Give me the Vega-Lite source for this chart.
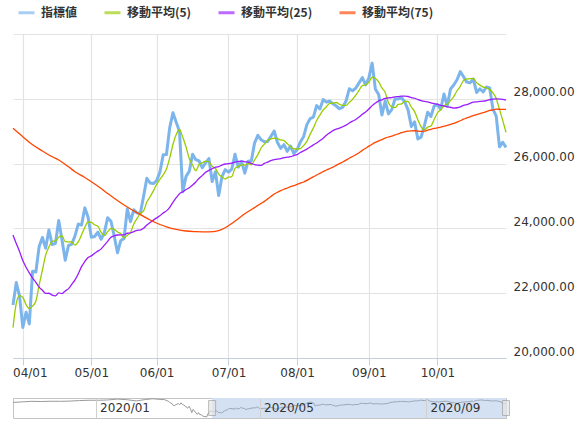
{
  "$schema": "https://vega.github.io/schema/vega-lite/v6.json",
  "padding": {"left": 10, "top": 3, "right": 2, "bottom": 2},
  "config": {"font": "DejaVu Sans", "view": {"stroke": null}},
  "datasets": {
    "main": [
      {"d":"2020-03-27","p":21637,"m5":20937,"m25":23798,"m75":27090},
      {"d":"2020-03-30","p":22327,"m5":21684,"m25":23533},
      {"d":"2020-03-31","p":21917,"m5":21927,"m25":23286},
      {"d":"2020-04-01","p":20944,"m5":21875,"m25":23006,"m75":26830},
      {"d":"2020-04-02","p":21413,"m5":21648,"m25":22802},
      {"d":"2020-04-03","p":21053,"m5":21531,"m25":22627},
      {"d":"2020-04-06","p":22680,"m5":21601,"m25":22466,"m75":26580},
      {"d":"2020-04-07","p":22654,"m5":21749,"m25":22336},
      {"d":"2020-04-08","p":23434,"m5":22247,"m25":22190},
      {"d":"2020-04-09","p":23719,"m5":22708,"m25":22093,"m75":26390},
      {"d":"2020-04-13","p":23391,"m5":23176,"m25":21995},
      {"d":"2020-04-14","p":23950,"m5":23430,"m25":21998},
      {"d":"2020-04-15","p":23504,"m5":23600,"m25":21938,"m75":26210},
      {"d":"2020-04-16","p":23538,"m5":23620,"m25":21917},
      {"d":"2020-04-17","p":24242,"m5":23725,"m25":22009,"m75":26110},
      {"d":"2020-04-20","p":23650,"m5":23777,"m25":21988},
      {"d":"2020-04-21","p":23019,"m5":23591,"m25":22071},
      {"d":"2020-04-22","p":23476,"m5":23585,"m25":22140,"m75":25900},
      {"d":"2020-04-23","p":23515,"m5":23580,"m25":22275},
      {"d":"2020-04-24","p":23775,"m5":23487,"m25":22412,"m75":25750},
      {"d":"2020-04-27","p":24134,"m5":23584,"m25":22601},
      {"d":"2020-04-28","p":24102,"m5":23800,"m25":22821},
      {"d":"2020-04-29","p":24634,"m5":24032,"m25":22978,"m75":25570},
      {"d":"2020-04-30","p":24346,"m5":24198,"m25":23104},
      {"d":"2020-05-01","p":23724,"m5":24188,"m25":23151,"m75":25440},
      {"d":"2020-05-04","p":23750,"m5":24111,"m25":23236},
      {"d":"2020-05-05","p":23883,"m5":24067,"m25":23298},
      {"d":"2020-05-06","p":23665,"m5":23874,"m25":23368,"m75":25230},
      {"d":"2020-05-07","p":23876,"m5":23780,"m25":23485},
      {"d":"2020-05-08","p":24331,"m5":23901,"m25":23602,"m75":25080},
      {"d":"2020-05-11","p":24222,"m5":23995,"m25":23729},
      {"d":"2020-05-12","p":23765,"m5":23972,"m25":23772},
      {"d":"2020-05-13","p":23248,"m5":23888,"m25":23796,"m75":24860},
      {"d":"2020-05-14","p":23625,"m5":23838,"m25":23803},
      {"d":"2020-05-15","p":23685,"m5":23709,"m25":23802,"m75":24720},
      {"d":"2020-05-18","p":24597,"m5":23784,"m25":23850},
      {"d":"2020-05-19","p":24207,"m5":23872,"m25":23861},
      {"d":"2020-05-20","p":24576,"m5":24138,"m25":23903,"m75":24540},
      {"d":"2020-05-21","p":24474,"m5":24308,"m25":23941},
      {"d":"2020-05-22","p":24465,"m5":24464,"m25":23950},
      {"d":"2020-05-26","p":24995,"m5":24543,"m25":24004,"m75":24370},
      {"d":"2020-05-27","p":25548,"m5":24812,"m25":24105},
      {"d":"2020-05-28","p":25401,"m5":24977,"m25":24182,"m75":24260},
      {"d":"2020-05-29","p":25383,"m5":25158,"m25":24256},
      {"d":"2020-06-01","p":25475,"m5":25360,"m25":24324},
      {"d":"2020-06-02","p":25743,"m5":25510,"m25":24389,"m75":24120},
      {"d":"2020-06-03","p":26270,"m5":25654,"m25":24476},
      {"d":"2020-06-04","p":26282,"m5":25831,"m25":24541,"m75":24050},
      {"d":"2020-06-05","p":27111,"m5":26176,"m25":24652},
      {"d":"2020-06-08","p":27572,"m5":26596,"m25":24806},
      {"d":"2020-06-09","p":27272,"m5":26901,"m25":24947,"m75":23970},
      {"d":"2020-06-10","p":26990,"m5":27045,"m25":25071},
      {"d":"2020-06-11","p":25128,"m5":26815,"m25":25130},
      {"d":"2020-06-12","p":25606,"m5":26514,"m25":25199,"m75":23920},
      {"d":"2020-06-15","p":25763,"m5":26152,"m25":25256},
      {"d":"2020-06-16","p":26290,"m5":25955,"m25":25339},
      {"d":"2020-06-17","p":26120,"m5":25781,"m25":25433,"m75":23900},
      {"d":"2020-06-18","p":26080,"m5":25972,"m25":25546},
      {"d":"2020-06-19","p":25871,"m5":26025,"m25":25636},
      {"d":"2020-06-22","p":26025,"m5":26077,"m25":25730},
      {"d":"2020-06-23","p":26156,"m5":26050,"m25":25792,"m75":23890},
      {"d":"2020-06-24","p":25446,"m5":25916,"m25":25842},
      {"d":"2020-06-25","p":25746,"m5":25849,"m25":25888},
      {"d":"2020-06-26","p":25016,"m5":25678,"m25":25910,"m75":23930},
      {"d":"2020-06-29","p":25596,"m5":25592,"m25":25955},
      {"d":"2020-06-30","p":25813,"m5":25523,"m25":25988,"m75":24020},
      {"d":"2020-07-01","p":25735,"m5":25581,"m25":25996},
      {"d":"2020-07-02","p":25827,"m5":25597,"m25":26013,"m75":24150},
      {"d":"2020-07-06","p":26287,"m5":25852,"m25":26049},
      {"d":"2020-07-07","p":25890,"m5":25910,"m25":26065,"m75":24300},
      {"d":"2020-07-08","p":26067,"m5":25961,"m25":26078},
      {"d":"2020-07-09","p":25706,"m5":25955,"m25":26056,"m75":24450},
      {"d":"2020-07-10","p":26075,"m5":26005,"m25":26048},
      {"d":"2020-07-13","p":26086,"m5":25965,"m25":26007,"m75":24580},
      {"d":"2020-07-14","p":26643,"m5":26115,"m25":25969,"m75":24642},
      {"d":"2020-07-15","p":26870,"m5":26276,"m25":25953,"m75":24712},
      {"d":"2020-07-16","p":26735,"m5":26482,"m25":25943,"m75":24771},
      {"d":"2020-07-17","p":26672,"m5":26601,"m25":26005,"m75":24834},
      {"d":"2020-07-20","p":26681,"m5":26720,"m25":26048,"m75":24911},
      {"d":"2020-07-21","p":26840,"m5":26760,"m25":26091,"m75":24983},
      {"d":"2020-07-22","p":27006,"m5":26787,"m25":26120,"m75":25062},
      {"d":"2020-07-23","p":26652,"m5":26770,"m25":26141,"m75":25115},
      {"d":"2020-07-24","p":26470,"m5":26730,"m25":26156,"m75":25166},
      {"d":"2020-07-27","p":26585,"m5":26711,"m25":26185,"m75":25208},
      {"d":"2020-07-28","p":26379,"m5":26618,"m25":26199,"m75":25244},
      {"d":"2020-07-29","p":26540,"m5":26525,"m25":26215,"m75":25286},
      {"d":"2020-07-30","p":26314,"m5":26458,"m25":26249,"m75":25317},
      {"d":"2020-07-31","p":26428,"m5":26449,"m25":26277,"m75":25356},
      {"d":"2020-08-03","p":26664,"m5":26465,"m25":26342,"m75":25398},
      {"d":"2020-08-04","p":26828,"m5":26555,"m25":26392,"m75":25432},
      {"d":"2020-08-05","p":27202,"m5":26687,"m25":26447,"m75":25480},
      {"d":"2020-08-06","p":27387,"m5":26902,"m25":26513,"m75":25538},
      {"d":"2020-08-07","p":27433,"m5":27103,"m25":26578,"m75":25591},
      {"d":"2020-08-10","p":27791,"m5":27328,"m25":26638,"m75":25648},
      {"d":"2020-08-11","p":27687,"m5":27500,"m25":26710,"m75":25700},
      {"d":"2020-08-12","p":27977,"m5":27655,"m25":26786,"m75":25751},
      {"d":"2020-08-13","p":27897,"m5":27757,"m25":26874,"m75":25802},
      {"d":"2020-08-14","p":27931,"m5":27857,"m25":26948,"m75":25846},
      {"d":"2020-08-17","p":27845,"m5":27867,"m25":27018,"m75":25892},
      {"d":"2020-08-18","p":27778,"m5":27886,"m25":27064,"m75":25946},
      {"d":"2020-08-19","p":27693,"m5":27829,"m25":27097,"m75":25999},
      {"d":"2020-08-20","p":27740,"m5":27797,"m25":27137,"m75":26050},
      {"d":"2020-08-21","p":27930,"m5":27797,"m25":27187,"m75":26107},
      {"d":"2020-08-24","p":28308,"m5":27890,"m25":27252,"m75":26166},
      {"d":"2020-08-25","p":28248,"m5":27984,"m25":27309,"m75":26219},
      {"d":"2020-08-26","p":28332,"m5":28112,"m25":27362,"m75":26273},
      {"d":"2020-08-27","p":28492,"m5":28262,"m25":27435,"m75":26336},
      {"d":"2020-08-28","p":28654,"m5":28407,"m25":27523,"m75":26408},
      {"d":"2020-08-31","p":28430,"m5":28431,"m25":27596,"m75":26473},
      {"d":"2020-09-01","p":28646,"m5":28511,"m25":27687,"m75":26539},
      {"d":"2020-09-02","p":29101,"m5":28665,"m25":27789,"m75":26599},
      {"d":"2020-09-03","p":28293,"m5":28625,"m25":27869,"m75":26653},
      {"d":"2020-09-04","p":28133,"m5":28521,"m25":27937,"m75":26701},
      {"d":"2020-09-08","p":27501,"m5":28335,"m25":27970,"m75":26741},
      {"d":"2020-09-09","p":27940,"m5":28194,"m25":28015,"m75":26787},
      {"d":"2020-09-10","p":27535,"m5":27880,"m25":28028,"m75":26821},
      {"d":"2020-09-11","p":27666,"m5":27755,"m25":28039,"m75":26849},
      {"d":"2020-09-14","p":27993,"m5":27727,"m25":28062,"m75":26884},
      {"d":"2020-09-15","p":27996,"m5":27826,"m25":28070,"m75":26919},
      {"d":"2020-09-16","p":28032,"m5":27844,"m25":28084,"m75":26953},
      {"d":"2020-09-17","p":27902,"m5":27918,"m25":28081,"m75":26982},
      {"d":"2020-09-18","p":27657,"m5":27916,"m25":28071,"m75":27000},
      {"d":"2020-09-21","p":27148,"m5":27747,"m25":28040,"m75":27012},
      {"d":"2020-09-22","p":27288,"m5":27605,"m25":28017,"m75":27014},
      {"d":"2020-09-23","p":26763,"m5":27352,"m25":27977,"m75":27003},
      {"d":"2020-09-24","p":26815,"m5":27134,"m25":27942,"m75":26997},
      {"d":"2020-09-25","p":27174,"m5":27038,"m25":27919,"m75":27000},
      {"d":"2020-09-28","p":27584,"m5":27125,"m25":27905,"m75":27032},
      {"d":"2020-09-29","p":27453,"m5":27158,"m25":27871,"m75":27057},
      {"d":"2020-09-30","p":27782,"m5":27362,"m25":27852,"m75":27084},
      {"d":"2020-10-01","p":27817,"m5":27562,"m25":27832,"m75":27104},
      {"d":"2020-10-02","p":27683,"m5":27664,"m25":27799,"m75":27125},
      {"d":"2020-10-05","p":28149,"m5":27777,"m25":27779,"m75":27153},
      {"d":"2020-10-06","p":27773,"m5":27841,"m25":27753,"m75":27178},
      {"d":"2020-10-07","p":28303,"m5":27945,"m25":27739,"m75":27208},
      {"d":"2020-10-08","p":28426,"m5":28067,"m25":27712,"m75":27239},
      {"d":"2020-10-09","p":28587,"m5":28248,"m25":27724,"m75":27281},
      {"d":"2020-10-12","p":28838,"m5":28385,"m25":27752,"m75":27322},
      {"d":"2020-10-13","p":28680,"m5":28567,"m25":27799,"m75":27371},
      {"d":"2020-10-14","p":28514,"m5":28609,"m25":27822,"m75":27410},
      {"d":"2020-10-15","p":28494,"m5":28623,"m25":27861,"m75":27445},
      {"d":"2020-10-16","p":28606,"m5":28626,"m25":27898,"m75":27484},
      {"d":"2020-10-19","p":28195,"m5":28498,"m25":27906,"m75":27515},
      {"d":"2020-10-20","p":28309,"m5":28424,"m25":27919,"m75":27542},
      {"d":"2020-10-21","p":28211,"m5":28363,"m25":27926,"m75":27573},
      {"d":"2020-10-22","p":28364,"m5":28337,"m25":27945,"m75":27604},
      {"d":"2020-10-23","p":28336,"m5":28283,"m25":27972,"m75":27639},
      {"d":"2020-10-26","p":27685,"m5":28181,"m25":27993,"m75":27660},
      {"d":"2020-10-27","p":27463,"m5":28012,"m25":28000,"m75":27679},
      {"d":"2020-10-28","p":26520,"m5":27674,"m25":27990,"m75":27677},
      {"d":"2020-10-29","p":26659,"m5":27333,"m25":27984,"m75":27674},
      {"d":"2020-10-30","p":26502,"m5":26966,"m25":27957,"m75":27671}
    ],
    "pre": [
      {"d":"2019-11-01","p":27347},{"d":"2019-11-08","p":27681},{"d":"2019-11-15","p":28005},
      {"d":"2019-11-22","p":27876},{"d":"2019-11-29","p":28051},{"d":"2019-12-06","p":28015},
      {"d":"2019-12-13","p":28135},{"d":"2019-12-20","p":28455},{"d":"2019-12-27","p":28645},
      {"d":"2020-01-03","p":28634},{"d":"2020-01-10","p":28824},{"d":"2020-01-17","p":29348},
      {"d":"2020-01-24","p":28990},{"d":"2020-01-31","p":28256},{"d":"2020-02-07","p":29103},
      {"d":"2020-02-12","p":29551},{"d":"2020-02-14","p":29398},{"d":"2020-02-21","p":28992},
      {"d":"2020-02-24","p":27961},{"d":"2020-02-25","p":27081},{"d":"2020-02-26","p":26957},
      {"d":"2020-02-27","p":25766},{"d":"2020-02-28","p":25409},{"d":"2020-03-02","p":26703},
      {"d":"2020-03-03","p":25917},{"d":"2020-03-04","p":27091},{"d":"2020-03-05","p":26121},
      {"d":"2020-03-06","p":25865},{"d":"2020-03-09","p":23851},{"d":"2020-03-10","p":25018},
      {"d":"2020-03-11","p":23553},{"d":"2020-03-12","p":21200},{"d":"2020-03-13","p":23186},
      {"d":"2020-03-16","p":20189},{"d":"2020-03-17","p":21237},{"d":"2020-03-18","p":19899},
      {"d":"2020-03-19","p":20087},{"d":"2020-03-20","p":19174},{"d":"2020-03-23","p":18592},
      {"d":"2020-03-24","p":20705},{"d":"2020-03-25","p":21201},{"d":"2020-03-26","p":22552},
      {"d":"2020-03-27","p":21637}
    ]
  },
  "vconcat": [
    {
      "width": 493,
      "height": 324,
      "data": {"name": "main", "format": {"parse": {"d": "string"}}},
      "transform": [
        {"fold": ["p", "m5", "m25", "m75"], "as": ["k", "v"]},
        {"filter": "isValid(datum.v)"}
      ],
      "encoding": {
        "x": {
          "field": "d",
          "type": "ordinal",
          "scale": {"type": "point", "padding": 0},
          "axis": {
            "values": ["2020-04-01","2020-05-01","2020-06-01","2020-07-01","2020-07-31","2020-09-01","2020-10-01"],
            "labelExpr": "datum.value == '2020-07-31' ? '08/01' : substring(datum.value,5,7) + '/' + substring(datum.value,8,10)",
            "title": null,
            "grid": true,
            "gridColor": "#e3e3e3",
            "gridWidth": 1.2,
            "domainColor": "#c5d0dd",
            "tickColor": "#c5d0dd",
            "tickSize": 7,
            "labelPadding": 2,
            "labelFontSize": 12,
            "labelColor": "#333333",
            "labelAngle": 0,
            "labelOffset": {"condition": {"test": "datum.value == '2020-04-01'", "value": 7}, "value": 0}
          }
        },
        "y": {
          "field": "v",
          "type": "quantitative",
          "scale": {"domain": [20000, 30000], "zero": false, "nice": false},
          "axis": {
            "orient": "right",
            "values": [20000, 22000, 24000, 26000, 28000, 30000],
            "labelExpr": "datum.value >= 30000 ? '' : format(datum.value, ',.2f')",
            "title": null,
            "domain": false,
            "ticks": false,
            "grid": true,
            "gridColor": "#e3e3e3",
            "gridWidth": 1.2,
            "labelPadding": 7,
            "labelBaseline": "bottom",
            "labelFontSize": 12,
            "labelColor": "#333333"
          }
        },
        "color": {
          "field": "k",
          "type": "nominal",
          "scale": {"domain": ["p", "m5", "m25", "m75"], "range": ["#7cb5ec", "#99cc00", "#9a1cff", "#ff4500"]},
          "legend": {
            "orient": "none",
            "legendX": 4,
            "legendY": -31,
            "direction": "horizontal",
            "title": null,
            "symbolType": "stroke",
            "symbolStrokeWidth": 3,
            "symbolSize": 256,
            "symbolOpacity": 0.65,
            "labelFont": "Noto Sans CJK JP",
            "labelFontWeight": "bold",
            "labelFontSize": 12,
            "labelColor": "#333333",
            "labelOffset": 5,
            "columnPadding": 20,
            "labelExpr": "datum.value == 'p' ? '指標値' : datum.value == 'm5' ? '移動平均(5)' : datum.value == 'm25' ? '移動平均(25)' : '移動平均(75)'"
          }
        }
      },
      "layer": [
        {
          "transform": [{"filter": "datum.k == 'p'"}],
          "mark": {"type": "line", "strokeWidth": 3, "strokeJoin": "round"}
        },
        {
          "transform": [{"filter": "datum.k != 'p'"}],
          "mark": {"type": "line", "strokeWidth": 1.3, "interpolate": "monotone"}
        }
      ]
    },
    {
      "width": 493,
      "height": 20,
      "view": {"stroke": "#c4c4c4"},
      "layer": [
        {
          "data": {"values": [{"s": "2020-03-27", "e": "2020-10-30"}]},
          "mark": {"type": "rect", "color": "#d3e1f3", "opacity": 1},
          "encoding": {
            "x": {
              "field": "s",
              "type": "temporal",
              "scale": {"domain": [{"year": 2019, "month": 11, "date": 1}, {"year": 2020, "month": 10, "date": 30}]},
              "axis": {
                "values": [{"year": 2020, "month": 1, "date": 1}, {"year": 2020, "month": 5, "date": 1}, {"year": 2020, "month": 9, "date": 1}],
                "format": "%Y/%m",
                "title": null,
                "grid": true,
                "gridColor": "#d0d0d0",
                "domain": false,
                "ticks": false,
                "zindex": 1,
                "labelAlign": "left",
                "labelOffset": 4,
                "labelPadding": -16,
                "labelFontSize": 12,
                "labelColor": "#333333",
                "labelFlush": false,
                "labelOverlap": false
              }
            },
            "x2": {"field": "e"}
          }
        },
        {
          "data": {"name": "pre"},
          "mark": {"type": "line", "color": "#9a9a9a", "strokeWidth": 1},
          "encoding": {
            "x": {"field": "d", "type": "temporal"},
            "y": {"field": "p", "type": "quantitative", "scale": {"domain": [18000, 30000], "zero": false, "nice": false}, "axis": null}
          }
        },
        {
          "data": {"name": "main"},
          "mark": {"type": "line", "color": "#9aa8b8", "strokeWidth": 1},
          "encoding": {
            "x": {"field": "d", "type": "temporal"},
            "y": {"field": "p", "type": "quantitative"}
          }
        },
        {
          "data": {"values": [{"h": "2020-03-27", "y": 24000}, {"h": "2020-10-30", "y": 24000}]},
          "mark": {"type": "tick", "orient": "vertical", "thickness": 7, "size": 15, "color": "#e6e6e6", "stroke": "#a0a0a0", "strokeWidth": 1},
          "encoding": {
            "x": {"field": "h", "type": "temporal"},
            "y": {"field": "y", "type": "quantitative"}
          }
        }
      ]
    }
  ],
  "spacing": 18,
  "resolve": {"legend": {"color": "independent"}}
}
